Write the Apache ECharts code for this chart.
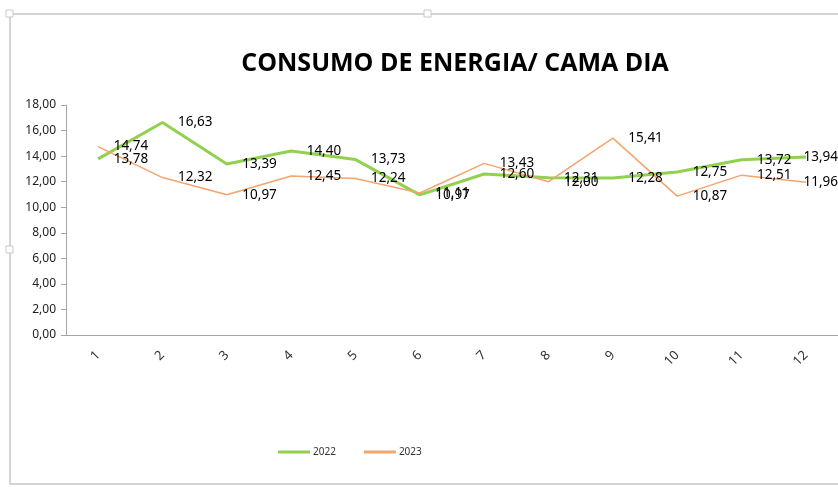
<!DOCTYPE html>
<html>
<head>
<meta charset="utf-8">
<script src="https://cdn.jsdelivr.net/npm/echarts@6/dist/echarts.min.js"></script>
<style>
  html, body { margin: 0; padding: 0; background: #fff; }
  #chart { width: 838px; height: 487px; }
</style>
</head>
<body>
<div id="chart"></div>
<script>
var months = ['1', '2', '3', '4', '5', '6', '7', '8', '9', '10', '11', '12'];
var data2022 = [13.78, 16.63, 13.39, 14.40, 13.73, 10.97, 12.60, 12.31, 12.28, 12.75, 13.72, 13.94];
var data2023 = [14.74, 12.32, 10.97, 12.45, 12.24, 11.11, 13.43, 12.00, 15.41, 10.87, 12.51, 11.96];

var green = '#92d050';
var orange = '#f4a46c';

function comma(v, d) {
    return Number(v).toFixed(d).replace('.', ',');
}

var labelStyle = {
    show: true,
    position: 'right',
    color: '#000',
    fontSize: 13.5,
    fontFamily: 'Noto Sans',
    distance: 15,
    offset: [0, 3],
    formatter: function (p) { return comma(p.value, 2); }
};

// keep labels inside the chart, like Excel does on the last month
function keepInside(p) {
    var over = p.labelRect.x + p.labelRect.width - 838;
    if (over > 0) {
        return { dx: -over, hideOverlap: false };
    }
    return { hideOverlap: false };
}

var myChart = echarts.init(document.getElementById('chart'));
myChart.setOption({
    animation: false,
    title: {
        text: 'CONSUMO DE ENERGIA/ CAMA DIA',
        left: 450,
        top: 46,
        textAlign: 'center',
        textStyle: {
            color: '#000',
            fontSize: 25,
            fontWeight: 'bold',
            fontFamily: 'Open Sans'
        }
    },
    graphic: {
        elements: [{
            type: 'rect',
            shape: { x: 10, y: 14, width: 840, height: 470 },
            style: { fill: 'none', stroke: '#d4d4d4', lineWidth: 2 },
            silent: true
        }, {
            type: 'rect',
            shape: { x: 6, y: 10, width: 7, height: 7 },
            style: { fill: '#fff', stroke: '#c8c8c8', lineWidth: 1 }
        }, {
            type: 'rect',
            shape: { x: 424, y: 10, width: 7, height: 7 },
            style: { fill: '#fff', stroke: '#c8c8c8', lineWidth: 1 }
        }, {
            type: 'rect',
            shape: { x: 6, y: 246, width: 7, height: 7 },
            style: { fill: '#fff', stroke: '#c8c8c8', lineWidth: 1 }
        }]
    },
    legend: {
        bottom: 25,
        left: 273,
        itemWidth: 32,
        itemHeight: 3,
        itemGap: 28,
        icon: 'rect',
        textStyle: { color: '#333', fontSize: 10, fontFamily: 'Noto Sans', padding: [0, 0, 0, -2] },
        data: [
            { name: '2022', itemStyle: { color: green, opacity: 1 } },
            { name: '2023', itemStyle: { color: orange, opacity: 1 } }
        ]
    },
    grid: {
        left: 66,
        right: -2,
        top: 105,
        bottom: 152
    },
    xAxis: {
        type: 'category',
        data: months,
        boundaryGap: true,
        axisLine: { lineStyle: { color: '#a6a6a6', width: 1 } },
        axisTick: { show: false },
        axisLabel: {
            rotate: 45,
            margin: 18,
            color: '#333',
            fontSize: 13,
            fontFamily: 'Noto Sans'
        }
    },
    yAxis: {
        type: 'value',
        min: 0,
        max: 18,
        interval: 2,
        splitLine: { show: false },
        axisLine: { show: true, lineStyle: { color: '#a6a6a6' } },
        axisTick: { show: true, length: 5, lineStyle: { color: '#a6a6a6' } },
        axisLabel: {
            margin: 10,
            color: '#222',
            fontSize: 12,
            fontFamily: 'Noto Sans',
            formatter: function (v) { return comma(v, 2); }
        }
    },
    series: [{
        name: '2022',
        type: 'line',
        data: data2022,
        symbol: 'circle',
        symbolSize: 1,
        showSymbol: true,
        itemStyle: { color: 'rgba(0,0,0,0)', borderWidth: 0 },
        lineStyle: { color: green, width: 3 },
        label: labelStyle,
        labelLayout: keepInside
    }, {
        name: '2023',
        type: 'line',
        data: data2023,
        symbol: 'circle',
        symbolSize: 1,
        showSymbol: true,
        itemStyle: { color: 'rgba(0,0,0,0)', borderWidth: 0 },
        lineStyle: { color: orange, width: 1.5 },
        label: labelStyle,
        labelLayout: keepInside
    }]
});
</script>
</body>
</html>
